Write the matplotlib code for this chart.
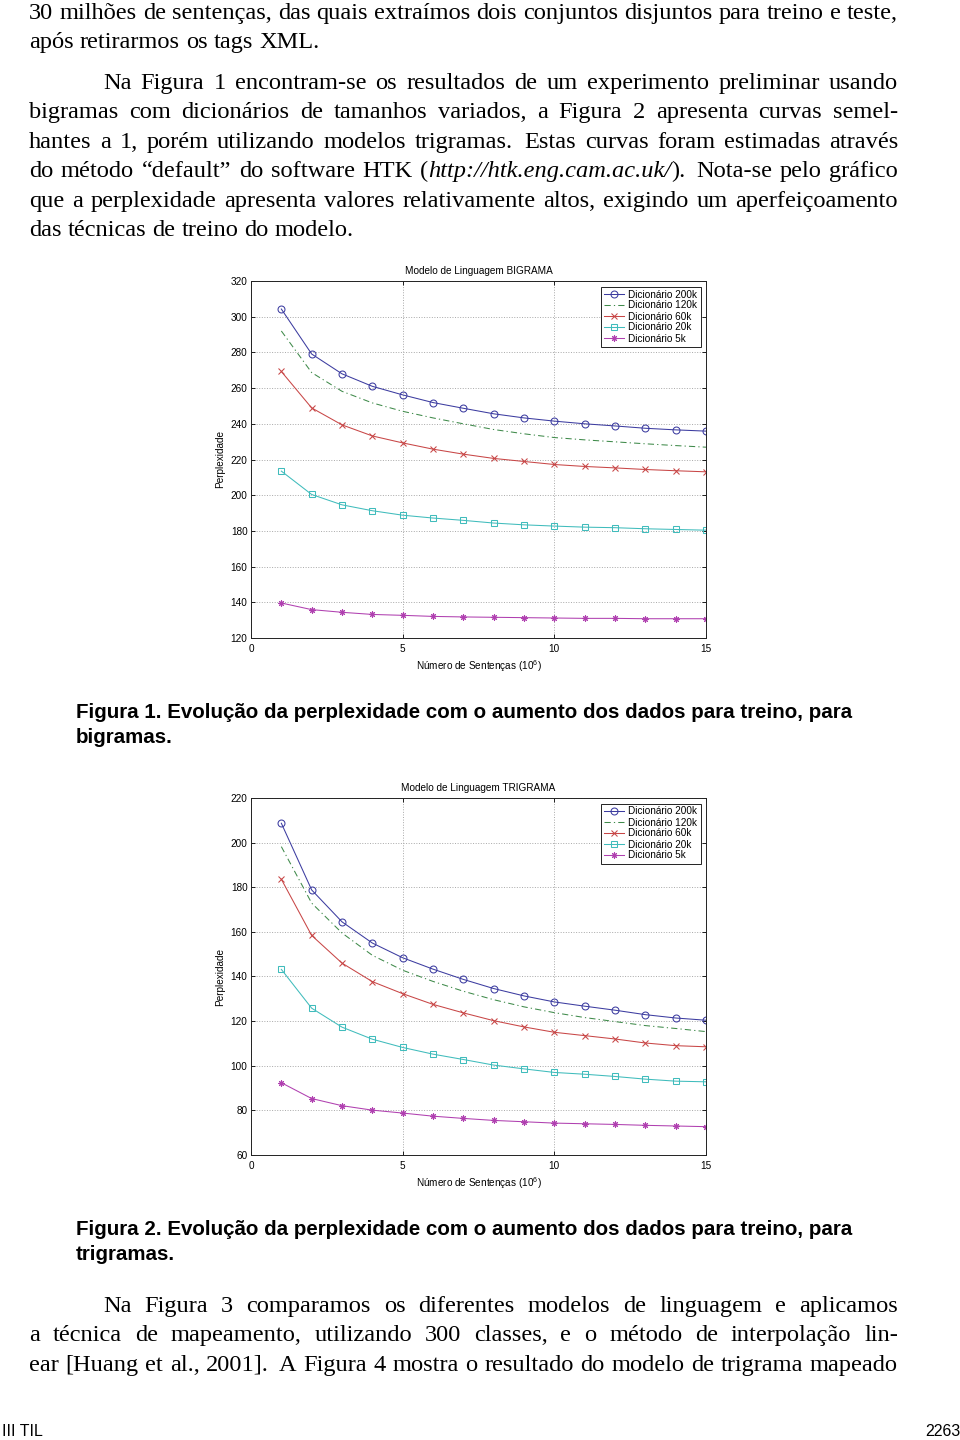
import matplotlib
matplotlib.use("Agg")
import matplotlib.pyplot as plt

# ---------------- data ----------------
x_sent = list(range(1, 16))

bi_200k = [304.3, 279.1, 268.0, 261.0, 256.2, 251.9, 248.7, 245.6, 243.3, 241.5, 240.0, 238.8, 237.5, 236.6, 235.9]
bi_120k = [292.0, 268.7, 258.2, 251.7, 247.0, 243.3, 240.0, 236.8, 234.4, 232.3, 231.0, 229.9, 228.8, 227.8, 226.9]
bi_60k = [269.3, 248.9, 239.4, 233.2, 229.3, 225.8, 223.0, 220.6, 218.9, 217.2, 216.1, 215.3, 214.4, 213.7, 213.1]
bi_20k = [213.5, 200.4, 194.6, 191.3, 188.8, 187.2, 185.9, 184.4, 183.4, 182.7, 182.1, 181.8, 181.2, 180.8, 180.4]
bi_5k = [139.6, 135.9, 134.4, 133.2, 132.7, 132.1, 131.8, 131.6, 131.4, 131.2, 131.0, 131.0, 130.8, 130.8, 130.8]

tri_200k = [208.7, 178.8, 164.5, 155.0, 148.4, 143.3, 138.7, 134.6, 131.3, 128.6, 126.7, 124.9, 122.9, 121.4, 120.4]
tri_120k = [198.2, 172.9, 159.5, 149.5, 142.8, 137.8, 133.4, 129.6, 126.4, 123.8, 121.6, 119.8, 118.0, 116.7, 115.3]
tri_60k = [183.6, 158.4, 146.0, 137.7, 132.3, 127.5, 123.7, 120.2, 117.4, 115.0, 113.5, 112.0, 110.2, 109.0, 108.5]
tri_20k = [143.2, 125.8, 117.3, 111.9, 108.2, 105.2, 102.8, 100.3, 98.6, 97.0, 96.2, 95.2, 94.0, 93.1, 92.8]
tri_5k = [92.4, 85.3, 82.1, 80.1, 78.8, 77.4, 76.4, 75.5, 74.9, 74.3, 74.0, 73.7, 73.3, 73.0, 72.7]

series_labels = ["Dicionário 200k", "Dicionário 120k", "Dicionário 60k", "Dicionário 20k", "Dicionário 5k"]
x_ticks = [0, 5, 10, 15]
bi_yticks = [120, 140, 160, 180, 200, 220, 240, 260, 280, 300, 320]
tri_yticks = [60, 80, 100, 120, 140, 160, 180, 200, 220]

# ---------------- styles ----------------
plt.rcParams["mathtext.fontset"] = "custom"
plt.rcParams["mathtext.rm"] = "Liberation Sans"
plt.rcParams["mathtext.it"] = "Liberation Sans:italic"
plt.rcParams["mathtext.bf"] = "Liberation Sans:bold"

colors = ["#3c3ca0", "#3f8a4a", "#c84646", "#40bcbc", "#b040b0"]
markers = ["o", None, "x", "s", (8, 2, 0)]
msizes = [5, 0, 3.8, 4.2, 4.5]
lstyles = ["-", (0, (6, 3, 1.2, 3)), "-", "-", "-"]

W, H = 960, 1440
fig = plt.figure(figsize=(W / 100, H / 100), dpi=100)
renderer = fig.canvas.get_renderer()


def fx(px):
    return px / W


def fy(py):
    return 1 - py / H


CF = "Liberation Sans"
CS = 7.2


def draw_chart(top_px, title, yticks, data):
    ax = fig.add_axes([fx(251), fy(top_px + 357), 455 / W, 357 / H])
    for vals, lab, c, m, ms, ls in zip(data, series_labels, colors, markers, msizes, lstyles):
        ax.plot(x_sent, vals, color=c, linestyle=ls, lw=0.75, marker=m, ms=ms,
                mfc="none", mec=c, mew=0.75, label=lab)
    ax.set_xlim(x_ticks[0], x_ticks[-1])
    ax.set_ylim(yticks[0], yticks[-1])
    ax.set_xticks(x_ticks)
    ax.set_yticks(yticks)
    ax.tick_params(direction="in", length=3, width=0.6, top=True, right=True,
                   labelsize=CS, pad=2.5)
    ax.tick_params(axis="x", pad=4)
    for lab in ax.get_xticklabels() + ax.get_yticklabels():
        lab.set_fontfamily(CF)
    ax.grid(True, linestyle=":", color="#a8a8a8", lw=0.7)
    for s in ax.spines.values():
        s.set_linewidth(0.7)
        s.set_color("#222222")
    ax.set_title(title, fontsize=CS, family=CF, pad=5)
    ax.set_ylabel("Perplexidade", fontsize=CS, family=CF, labelpad=4)
    ax.set_xlabel("Número de Sentenças (10$^6$)", fontsize=CS, family=CF, labelpad=3)
    leg = ax.legend(loc="upper right", prop={"family": CF, "size": CS}, frameon=True,
                    fancybox=False, edgecolor="#222222", framealpha=1,
                    borderaxespad=0.55, labelspacing=0.1, handlelength=2.0,
                    handletextpad=0.5, borderpad=0.3)
    leg.get_frame().set_linewidth(0.7)
    return ax


draw_chart(281, "Modelo de Linguagem BIGRAMA", bi_yticks, [bi_200k, bi_120k, bi_60k, bi_20k, bi_5k])
draw_chart(798, "Modelo de Linguagem TRIGRAMA", tri_yticks, [tri_200k, tri_120k, tri_60k, tri_20k, tri_5k])


# ---------------- page text ----------------
def measure(s, **kw):
    t = fig.text(0, 0, s, **kw)
    w = t.get_window_extent(renderer).width
    t.remove()
    return w


SERIF = "Liberation Serif"
L, R, IND = 29, 898, 103
fit_a = 17 * (R - L) / measure("30 milhões de sentenças, das quais extraímos dois conjuntos disjuntos para treino e teste,",
                              family=SERIF, size=17)
fit_b = 17 * (R - L) / measure("que a perplexidade apresenta valores relativamente altos, exigindo um aperfeiçoamento",
                              family=SERIF, size=17)
body_size = 0.99 * (fit_a + fit_b) / 2
cap_size = 17 * 777 / measure("Figura 1. Evolução da perplexidade com o aumento dos dados para treino, para",
                              family=CF, size=17, weight="bold")


def place_line(text, x0, x1, baseline, justify, base_kw):
    words = text.split(" ")
    pieces = []
    for w in words:
        parts = w.split("\x01")
        segs = []
        for i, p in enumerate(parts):
            if p:
                kw = dict(base_kw)
                if i % 2 == 1:
                    kw["style"] = "italic"
                segs.append((p, kw))
        pieces.append(segs)
    widths = [[measure(t, **kw) for t, kw in segs] for segs in pieces]
    totals = [sum(ws) for ws in widths]
    space = measure("a b", **base_kw) - measure("ab", **base_kw)
    n = len(pieces)
    weights = []
    for i in range(n - 1):
        last = words[i].replace("\x01", "")
        weights.append(1.4 if last.endswith((".", ").", "].")) and len(last) > 2 and not last.endswith("al.,") else 1.0)
    if justify and n > 1:
        unit = (x1 - x0 - sum(totals)) / sum(weights)
    else:
        unit = space
    x = x0
    for i, segs in enumerate(pieces):
        for (t, kw), pw in zip(segs, widths[i]):
            fig.text(fx(x), fy(baseline), t, ha="left", va="baseline", **kw)
            x += pw
        if i < n - 1:
            x += unit * weights[i]


body_kw = dict(family=SERIF, size=body_size, color="black")

top_lines = [
    ("30 milhões de sentenças, das quais extraímos dois conjuntos disjuntos para treino e teste,", L, True, 19),
    ("após retirarmos os tags XML.", L, False, 48),
    ("Na Figura 1 encontram-se os resultados de um experimento preliminar usando", IND, True, 89),
    ("bigramas com dicionários de tamanhos variados, a Figura 2 apresenta curvas semel-", L, True, 118),
    ("hantes a 1, porém utilizando modelos trigramas. Estas curvas foram estimadas através", L, True, 148),
    ("do método “default” do software HTK (\x01http://htk.eng.cam.ac.uk/\x01). Nota-se pelo gráfico", L, True, 177),
    ("que a perplexidade apresenta valores relativamente altos, exigindo um aperfeiçoamento", L, True, 207),
    ("das técnicas de treino do modelo.", L, False, 236),
]
bottom_lines = [
    ("Na Figura 3 comparamos os diferentes modelos de linguagem e aplicamos", IND, True, 1312),
    ("a técnica de mapeamento, utilizando 300 classes, e o método de interpolação lin-", L, True, 1341),
    ("ear [Huang et al., 2001]. A Figura 4 mostra o resultado do modelo de trigrama mapeado", L, True, 1371),
]
for txt, x0, just, base in top_lines + bottom_lines:
    place_line(txt, x0, R, base, just, body_kw)

cap_kw = dict(family=CF, size=cap_size, weight="bold", color="black")
captions = [
    ("Figura 1. Evolução da perplexidade com o aumento dos dados para treino, para", 718),
    ("bigramas.", 743),
    ("Figura 2. Evolução da perplexidade com o aumento dos dados para treino, para", 1235),
    ("trigramas.", 1260),
]
for txt, base in captions:
    fig.text(fx(76), fy(base), txt, ha="left", va="baseline", **cap_kw)

fig.text(fx(2), fy(1431), "III TIL", ha="left", va="center", family=CF, size=11.5)
fig.text(fx(960), fy(1431), "2263", ha="right", va="center", family=CF, size=11.5)

fig.savefig("out.png", dpi=100)
